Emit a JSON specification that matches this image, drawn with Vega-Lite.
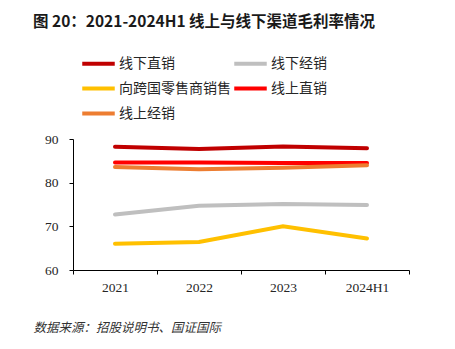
{
  "$schema": "https://vega.github.io/schema/vega-lite/v6.json",
  "autosize": {"type": "none"},
  "width": 336,
  "height": 131,
  "padding": {"left": 73, "top": 139, "right": 46, "bottom": 79},
  "background": "white",
  "title": {
    "text": "图 20：2021-2024H1 线上与线下渠道毛利率情况",
    "anchor": "start",
    "frame": "group",
    "dx": -40,
    "font": "Noto Sans CJK SC",
    "fontSize": 15.5,
    "fontWeight": "bold",
    "color": "#1a1a1a",
    "offset": 25
  },
  "data": {
    "values": [
      {"year": "2021", "series": "线下直销", "value": 88.2},
      {"year": "2022", "series": "线下直销", "value": 87.7},
      {"year": "2023", "series": "线下直销", "value": 88.3},
      {"year": "2024H1", "series": "线下直销", "value": 87.9},
      {"year": "2021", "series": "线下经销", "value": 72.7},
      {"year": "2022", "series": "线下经销", "value": 74.7},
      {"year": "2023", "series": "线下经销", "value": 75.1},
      {"year": "2024H1", "series": "线下经销", "value": 74.9},
      {"year": "2021", "series": "向跨国零售商销售", "value": 66.0},
      {"year": "2022", "series": "向跨国零售商销售", "value": 66.4},
      {"year": "2023", "series": "向跨国零售商销售", "value": 70.0},
      {"year": "2024H1", "series": "向跨国零售商销售", "value": 67.2},
      {"year": "2021", "series": "线上直销", "value": 84.6},
      {"year": "2022", "series": "线上直销", "value": 84.6},
      {"year": "2023", "series": "线上直销", "value": 84.5},
      {"year": "2024H1", "series": "线上直销", "value": 84.5},
      {"year": "2021", "series": "线上经销", "value": 83.6},
      {"year": "2022", "series": "线上经销", "value": 83.1},
      {"year": "2023", "series": "线上经销", "value": 83.4},
      {"year": "2024H1", "series": "线上经销", "value": 84.0}
    ]
  },
  "mark": {"type": "line", "strokeWidth": 4, "strokeCap": "round"},
  "encoding": {
    "x": {
      "field": "year",
      "type": "ordinal",
      "scale": {"type": "band", "paddingInner": 0, "paddingOuter": 0},
      "axis": {
        "title": "数据来源：招股说明书、国证国际",
        "titleFont": "Noto Sans CJK SC",
        "titleFontStyle": "italic",
        "titleFontWeight": "normal",
        "titleFontSize": 12.5,
        "titleColor": "#333333",
        "titleAnchor": "start",
        "titleAlign": "left",
        "titleBaseline": "middle",
        "titleX": -40,
        "titleY": 57,
        "labelAngle": 0,
        "labelFont": "Liberation Serif",
        "labelFontSize": 13.5,
        "labelColor": "#262626",
        "labelPadding": 6,
        "tickBand": "extent",
        "tickSize": 4,
        "tickColor": "#000000",
        "domainColor": "#000000",
        "grid": false
      }
    },
    "y": {
      "field": "value",
      "type": "quantitative",
      "scale": {"domain": [60, 90], "nice": false, "zero": false},
      "axis": {
        "title": null,
        "values": [60, 70, 80, 90],
        "labelFont": "Liberation Serif",
        "labelFontSize": 13.5,
        "labelColor": "#262626",
        "labelPadding": 11,
        "tickSize": 4,
        "tickColor": "#000000",
        "domainColor": "#000000",
        "grid": false
      }
    },
    "color": {
      "field": "series",
      "type": "nominal",
      "sort": ["线下直销", "线下经销", "向跨国零售商销售", "线上直销", "线上经销"],
      "scale": {
        "domain": ["线下直销", "线下经销", "向跨国零售商销售", "线上直销", "线上经销"],
        "range": ["#C00000", "#BFBFBF", "#FFC000", "#FF0000", "#ED7D31"]
      },
      "legend": {
        "title": null,
        "orient": "none",
        "direction": "horizontal",
        "legendX": 17,
        "legendY": -84,
        "columns": 2,
        "columnPadding": -5,
        "rowPadding": 8,
        "symbolType": "M-2.5,0H2.5",
        "symbolSize": 169,
        "symbolStrokeWidth": 4,
        "labelFont": "Noto Sans CJK SC",
        "labelFontSize": 14,
        "labelColor": "#262626",
        "labelOffset": 12
      }
    }
  },
  "config": {"view": {"stroke": null}}
}
